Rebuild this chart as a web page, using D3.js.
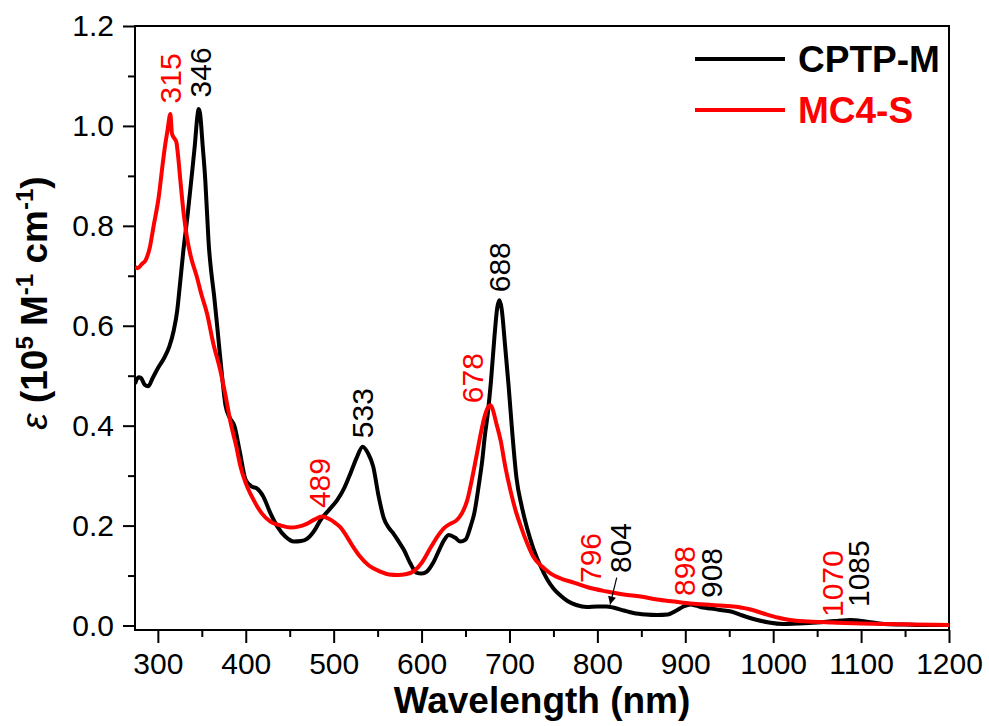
<!DOCTYPE html>
<html>
<head>
<meta charset="utf-8">
<script src="https://cdn.jsdelivr.net/npm/d3@7"></script>
<style>
  html, body { margin: 0; padding: 0; background: #fff; overflow: hidden; }
  svg { display: block; }
  text { font-family: "Liberation Sans", Arial, sans-serif; }
</style>
</head>
<body>
<div id="chart"></div>
<script>
const WIDTH = 989;
const HEIGHT = 726;
const MARGIN = { top: 26, right: 40, bottom: 96, left: 135 };

// CPTP-M spectrum [wavelength nm, epsilon 1e5 M-1 cm-1]
const cptpM = [
    [274, .484], [278, .497], [281, .495], [285, .482], [289, .479], [294, .495],
    [300, .515], [307, .535], [313, .558], [318, .59], [322, .63], [325, .68],
    [329, .75], [334, .824], [338, .891], [342, .96], [345, 1.02], [346.5, 1.034],
    [348, 1.025], [351, .96], [354, .89], [356, .824], [358, .76], [360, .72],
    [364, .66], [368, .59], [373, .50], [377, .44], [382, .415], [387, .40],
    [393, .35], [400, .291], [407, .278], [413, .274], [420, .258], [428, .225],
    [436, .198], [445, .178], [455, .168], [463, .169], [470, .174], [478, .19],
    [485, .211], [495, .232], [504, .251], [512, .275], [519, .304], [526, .335],
    [533, .358], [539, .345], [545, .318], [551, .26], [557, .215], [563, .195],
    [568, .184], [574, .168], [580, .151], [587, .125], [594, .106], [600, .104],
    [606, .108], [613, .125], [620, .151], [626, .172], [631, .181], [638, .176],
    [644, .168], [650, .172], [656, .2], [660, .225], [665, .28], [669, .33],
    [672, .38], [675, .42], [679, .49], [683, .58], [686, .635], [688.5, .651],
    [691, .635], [695, .56], [699, .48], [703, .39], [708, .295], [714, .238],
    [720, .195], [727, .155], [735, .12], [743, .092], [750, .074], [758, .06],
    [766, .049], [776, .041], [788, .037], [800, .038], [810, .038], [818, .036],
    [830, .03], [841, .025], [855, .022], [868, .021], [880, .022], [890, .03],
    [898, .038], [906, .042], [912, .04], [920, .036], [929, .034], [940, .031],
    [952, .028], [965, .02], [982, .011], [995, .006], [1012, .003], [1030, .004],
    [1050, .006], [1070, .009], [1088, .011], [1105, .008], [1126, .003],
    [1150, .002], [1175, .001], [1200, .001]
];

// MC4-S spectrum
const mc4S = [
    [274, .718], [277, .715], [282, .724], [286, .731], [291, .758], [295, .798],
    [301, .858], [305.5, .924], [308.5, .964], [311, .991], [314.2, 1.024],
    [316, .985], [318, .977], [321, .968], [323, .94], [325.6, .891], [329.4, .824],
    [333, .778], [338, .735], [344, .70], [350, .66], [356, .624], [363, .565],
    [371, .511], [377, .46], [383, .404], [389, .36], [394, .318], [400, .285],
    [409, .251], [418, .225], [428, .208], [440, .2], [451, .196], [460, .198],
    [470, .204], [478, .212], [487, .218], [495, .213], [502, .205], [508, .196],
    [515, .178], [522, .158], [530, .138], [540, .12], [553, .108], [563, .102],
    [573, .101], [583, .103], [592, .11], [600, .125], [610, .155], [618, .178],
    [625, .194], [632, .203], [640, .211], [646, .225], [652, .251], [657, .29],
    [663, .344], [668, .39], [672, .42], [676, .438], [678.5, .441], [681, .432],
    [685, .405], [690, .37], [695, .32], [701, .271], [707, .23], [713, .198],
    [720, .165], [727, .138], [737, .118], [747, .104], [760, .093], [773, .086],
    [790, .076], [811, .068], [830, .062], [849, .058], [868, .052], [887, .048],
    [906, .044], [930, .041], [955, .038], [972, .033], [989, .024], [1005, .016],
    [1019, .011], [1040, .008], [1068, .006], [1100, .004], [1126, .003],
    [1160, .002], [1200, .001]
];

const seriesNames = ["CPTP-M", "MC4-S"];
const seriesColors = ["#000000", "#ff0000"];

const xMajorTicks = d3.range(300, 1201, 100);
const xMinorTicks = d3.range(350, 1200, 100);
const yMajorTicks = [0, 0.2, 0.4, 0.6, 0.8, 1.0, 1.2];
const yMinorTicks = [0.1, 0.3, 0.5, 0.7, 0.9, 1.1];

// peak labels: text, series index, anchor [wavelength, value] where the rotated text starts
const peakLabels = [
    ["315", 1, 326.7, 1.045],
    ["346", 0, 360.9, 1.057],
    ["489", 1, 496.2, 0.235],
    ["533", 0, 545.2, 0.375],
    ["678", 1, 670.3, 0.445],
    ["688", 0, 701, 0.667],
    ["796", 1, 804.6, 0.085],
    ["804", 0, 838.7, 0.105],
    ["898", 1, 911.5, 0.059],
    ["908", 0, 942.2, 0.055],
    ["1070", 1, 1079.6, 0.017],
    ["1085", 0, 1109.2, 0.037]
];
// arrow from "804" label down to the black curve
const arrowFrom = [822, 0.096];
const arrowTo = [814.5, 0.042];

const innerWidth = WIDTH - MARGIN.left - MARGIN.right;
const innerHeight = HEIGHT - MARGIN.top - MARGIN.bottom;

const svg = d3.select("#chart")
    .append("svg")
    .attr("width", WIDTH)
    .attr("height", HEIGHT);

svg.append("defs").append("clipPath")
    .attr("id", "plot-clip")
    .append("rect")
    .attr("width", innerWidth)
    .attr("height", innerHeight);

const marker = svg.select("defs").append("marker")
    .attr("id", "arrow-head")
    .attr("viewBox", "0 0 10 10")
    .attr("refX", 10)
    .attr("refY", 5)
    .attr("markerWidth", 10)
    .attr("markerHeight", 8)
    .attr("markerUnits", "userSpaceOnUse")
    .attr("orient", "auto");
marker.append("path").attr("d", "M0,0 L10,5 L0,10 Z").attr("fill", "#000");

const inner = svg.append("g")
    .attr("transform", `translate(${MARGIN.left},${MARGIN.top})`);

const x = d3.scaleLinear().domain([274, 1200]).range([0, innerWidth]);
const y = d3.scaleLinear().domain([-0.009, 1.2]).range([innerHeight, 0]);

// X axis
inner.append("g")
    .attr("class", "x-axis")
    .attr("transform", `translate(0,${innerHeight})`)
    .call(d3.axisBottom(x).tickValues(xMajorTicks).tickSize(13).tickSizeOuter(0).tickPadding(10)
        .tickFormat(d3.format("d")))
    .attr("font-size", 30)
    .attr("font-family", "'Liberation Sans', Arial, sans-serif");
inner.append("g")
    .attr("class", "minor")
    .attr("transform", `translate(0,${innerHeight})`)
    .call(d3.axisBottom(x).tickValues(xMinorTicks).tickSize(7).tickFormat(""));

// Y axis
inner.append("g")
    .attr("class", "y-axis")
    .call(d3.axisLeft(y).tickValues(yMajorTicks).tickSize(12).tickSizeOuter(0).tickPadding(9)
        .tickFormat(d3.format(".1f")))
    .attr("font-size", 30)
    .attr("font-family", "'Liberation Sans', Arial, sans-serif");
inner.append("g")
    .attr("class", "minor")
    .call(d3.axisLeft(y).tickValues(yMinorTicks).tickSize(7).tickFormat(""));

svg.selectAll(".minor text").remove();
svg.selectAll(".domain").remove();
svg.selectAll(".tick line").attr("stroke", "#000").attr("stroke-width", 2);
svg.selectAll(".x-axis text, .y-axis text").attr("fill", "#000");

// Frame
inner.append("rect")
    .attr("width", innerWidth)
    .attr("height", innerHeight)
    .attr("fill", "none")
    .attr("stroke", "#000")
    .attr("stroke-width", 2);

// Curves
const line = d3.line()
    .x((d) => x(d[0]))
    .y((d) => y(d[1]))
    .curve(d3.curveMonotoneX);

const plot = inner.append("g").attr("clip-path", "url(#plot-clip)");
[cptpM, mc4S].forEach((data, i) => {
    plot.append("path")
        .datum(data)
        .attr("fill", "none")
        .attr("stroke", seriesColors[i])
        .attr("stroke-width", 4)
        .attr("stroke-linejoin", "round")
        .attr("d", line);
});

// Peak labels
inner.selectAll("text.peak")
    .data(peakLabels)
    .join("text")
    .attr("class", "peak")
    .attr("transform", (d) => `translate(${x(d[2])},${y(d[3])}) rotate(-90)`)
    .attr("fill", (d) => seriesColors[d[1]])
    .attr("font-size", 30)
    .text((d) => d[0]);

inner.append("line")
    .attr("x1", x(arrowFrom[0]))
    .attr("y1", y(arrowFrom[1]))
    .attr("x2", x(arrowTo[0]))
    .attr("y2", y(arrowTo[1]))
    .attr("stroke", "#000")
    .attr("stroke-width", 1.2)
    .attr("marker-end", "url(#arrow-head)");

// Legend
const legend = svg.append("g").attr("transform", "translate(695,59)");
seriesNames.forEach((name, i) => {
    const row = legend.append("g").attr("transform", `translate(0,${i * 51})`);
    row.append("line")
        .attr("x1", 0).attr("x2", 90)
        .attr("stroke", seriesColors[i])
        .attr("stroke-width", 4);
    row.append("text")
        .attr("x", 103)
        .attr("y", 13)
        .attr("fill", seriesColors[i])
        .attr("font-size", 37)
        .attr("font-weight", "bold")
        .text(name);
});

// Axis titles
svg.append("text")
    .attr("text-anchor", "middle")
    .attr("x", MARGIN.left + innerWidth / 2)
    .attr("y", 713)
    .attr("font-size", 37)
    .attr("font-weight", "bold")
    .text("Wavelength (nm)");

const yTitle = svg.append("text")
    .attr("text-anchor", "middle")
    .attr("transform", `translate(47,${MARGIN.top + innerHeight / 2 - 25}) rotate(-90)`)
    .attr("font-size", 37)
    .attr("font-weight", "bold");
yTitle.append("tspan").attr("font-style", "italic").attr("font-weight", "normal").text("ε");
yTitle.append("tspan").text(" (10");
yTitle.append("tspan").attr("dy", -14).attr("font-size", 24).text("5");
yTitle.append("tspan").attr("dy", 14).text(" M");
yTitle.append("tspan").attr("dy", -14).attr("font-size", 24).text("-1");
yTitle.append("tspan").attr("dy", 14).text(" cm");
yTitle.append("tspan").attr("dy", -14).attr("font-size", 24).text("-1");
yTitle.append("tspan").attr("dy", 14).text(")");
</script>
</body>
</html>
